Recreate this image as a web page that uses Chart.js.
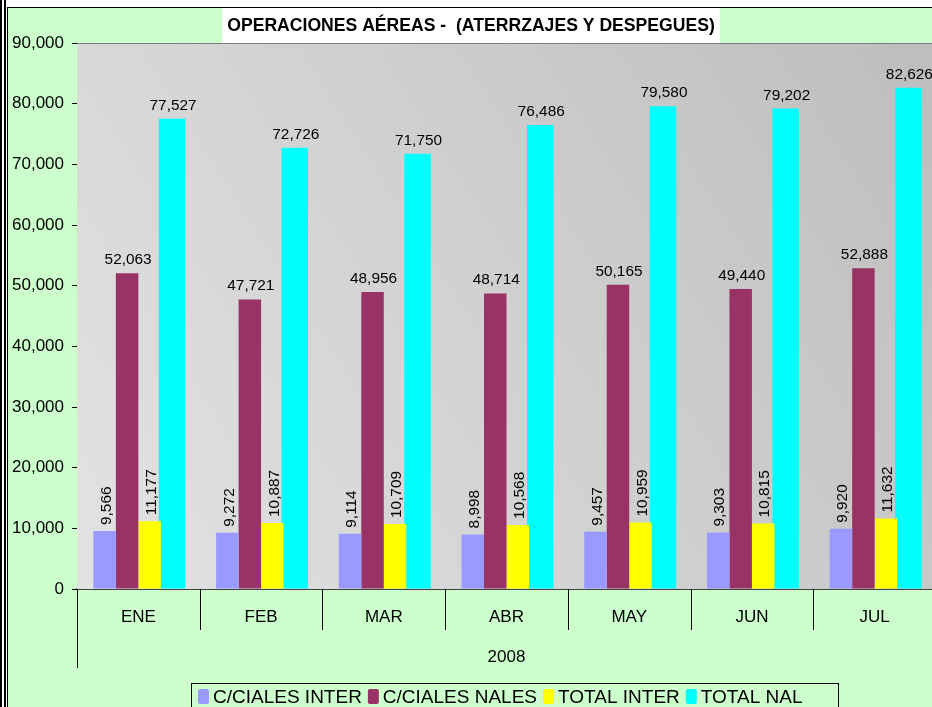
<!DOCTYPE html>
<html>
<head>
<meta charset="utf-8">
<script src="https://cdn.jsdelivr.net/npm/chart.js@4/dist/chart.umd.min.js"></script>
<style>
  html, body { margin: 0; padding: 0; width: 932px; height: 707px; overflow: hidden; background: #ffffff; }
  #strip { position: absolute; left: 0; top: 0; width: 2px; height: 707px; background: #fff; border-left: 2px solid #000; border-right: 2px solid #000; }
  #bg { position: absolute; left: 7px; top: 7px; width: 940px; height: 720px; background: #ccffcc; border-left: 1px solid #000; border-top: 1px solid #000; }
  #topbar { position: absolute; left: 7px; top: 0; width: 940px; height: 7px; background: #fff; }
  canvas { position: absolute; left: 0; top: 0; }
</style>
</head>
<body>
<div id="topbar"></div>
<div id="strip"></div>
<div id="bg"></div>
<canvas id="c" width="940" height="707"></canvas>
<script>
// ---- data ----
const categories = ['ENE', 'FEB', 'MAR', 'ABR', 'MAY', 'JUN', 'JUL'];
const groupLabel = '2008';
const cialesInter = [9566, 9272, 9114, 8998, 9457, 9303, 9920];
const cialesNales = [52063, 47721, 48956, 48714, 50165, 49440, 52888];
const totalInter = [11177, 10887, 10709, 10568, 10959, 10815, 11632];
const totalNal = [77527, 72726, 71750, 76486, 79580, 79202, 82626];
const seriesNames = ['C/CIALES INTER', 'C/CIALES NALES', 'TOTAL INTER', 'TOTAL NAL'];
const titleText = 'OPERACIONES AÉREAS -  (ATERRZAJES Y DESPEGUES)';

const FONT = '"Liberation Sans", Arial, sans-serif';
const fmt = v => String(v).replace(/\B(?=(\d{3})+(?!\d))/g, ',');

const colors = ['#9999ff', '#993366', '#ffff00', '#00ffff'];
const rotatedLabels = [true, false, true, false];

const decorPlugin = {
  id: 'decor',
  beforeDatasetsDraw(chart) {
    const { ctx, chartArea: a } = chart;
    ctx.save();
    const g = ctx.createLinearGradient(a.left, a.bottom, a.right, a.top);
    g.addColorStop(0, '#e3e3e3');
    g.addColorStop(1, '#bdbdbd');
    ctx.fillStyle = g;
    ctx.fillRect(a.left, a.top, a.right - a.left, a.bottom - a.top);
    ctx.strokeStyle = '#7f7f7f';
    ctx.lineWidth = 1;
    ctx.beginPath();
    ctx.moveTo(a.left, a.top + 0.5);
    ctx.lineTo(a.right, a.top + 0.5);
    ctx.stroke();
    ctx.restore();
  },
  afterDatasetsDraw(chart) {
    const { ctx } = chart;
    ctx.save();
    ctx.fillStyle = '#000';
    ctx.font = '15.4px ' + FONT;
    chart.data.datasets.forEach((ds, di) => {
      const meta = chart.getDatasetMeta(di);
      meta.data.forEach((bar, i) => {
        const txt = fmt(ds.data[i]);
        if (rotatedLabels[di]) {
          ctx.save();
          ctx.translate(bar.x + 2, bar.y - 6);
          ctx.rotate(-Math.PI / 2);
          ctx.textAlign = 'left';
          ctx.textBaseline = 'middle';
          ctx.fillText(txt, 0, 0);
          ctx.restore();
        } else {
          ctx.textAlign = 'center';
          ctx.textBaseline = 'alphabetic';
          ctx.fillText(txt, bar.x + 1, bar.y - 9);
        }
      });
    });
    ctx.restore();
  },
  afterDraw(chart) {
    const { ctx, chartArea: a, scales } = chart;
    const x = scales.x;
    ctx.save();
    // category separators
    ctx.strokeStyle = '#000';
    ctx.lineWidth = 1;
    const half = (x.getPixelForValue(1) - x.getPixelForValue(0)) / 2;
    ctx.beginPath();
    for (let i = 1; i < categories.length; i++) {
      const px = Math.round(x.getPixelForValue(i) - half) + 0.5;
      ctx.moveTo(px, a.bottom);
      ctx.lineTo(px, a.bottom + 41);
    }
    ctx.moveTo(a.left + 0.5, a.bottom);
    ctx.lineTo(a.left + 0.5, a.bottom + 79);
    ctx.stroke();
    // group label
    ctx.fillStyle = '#000';
    ctx.font = '17px ' + FONT;
    ctx.textAlign = 'center';
    ctx.textBaseline = 'middle';
    ctx.fillText(groupLabel, (a.left + a.right) / 2, 657);

    // title box
    ctx.font = 'bold 17.6px ' + FONT;
    const tw = ctx.measureText(titleText).width;
    const cx = 471;
    ctx.fillStyle = '#ffffff';
    ctx.fillRect(cx - tw / 2 - 5, 8, tw + 10, a.top - 8);
    ctx.fillStyle = '#000';
    ctx.fillText(titleText, cx, 26);

    // legend
    ctx.font = '19px ' + FONT;
    const lx0 = 191, ly0 = 683;
    ctx.strokeStyle = '#000';
    ctx.lineWidth = 1;
    ctx.fillStyle = '#ccffcc';
    ctx.fillRect(lx0, ly0, 838 - lx0, 40);
    ctx.strokeRect(lx0 + 0.5, ly0 + 0.5, 838 - lx0, 40);
    let px = 198;
    seriesNames.forEach((name, i) => {
      ctx.fillStyle = colors[i];
      ctx.beginPath();
      ctx.roundRect(px, 689, 11, 15, 2);
      ctx.fill();
      px += 15;
      ctx.fillStyle = '#000';
      ctx.textAlign = 'left';
      ctx.textBaseline = 'middle';
      ctx.fillText(name, px, 698);
      px += ctx.measureText(name).width + 6;
    });
    ctx.restore();
  }
};

const datasets = [cialesInter, cialesNales, totalInter, totalNal].map((d, i) => ({
  label: seriesNames[i],
  data: d,
  backgroundColor: colors[i],
  borderWidth: 0,
  barPercentage: i === 3 ? 1.18 : 1.0,
  categoryPercentage: 0.733
}));

new Chart(document.getElementById('c'), {
  type: 'bar',
  data: { labels: categories, datasets },
  options: {
    responsive: false,
    animation: false,
    layout: { padding: { top: 43, right: 4, left: 0, bottom: 0 } },
    plugins: { legend: { display: false }, title: { display: false }, tooltip: { enabled: false } },
    scales: {
      x: {
        grid: { display: false, drawTicks: false },
        border: { display: true, color: '#404040', width: 2 },
        ticks: { color: '#000', font: { family: FONT, size: 17 }, padding: 18 },
        afterFit: s => { s.height = 118; }
      },
      y: {
        min: 0, max: 90000,
        grid: { drawOnChartArea: false, drawTicks: true, tickLength: 5, color: '#000' },
        border: { display: true, color: '#000', width: 1 },
        ticks: { stepSize: 10000, color: '#000', font: { family: FONT, size: 17 }, padding: 8, callback: v => fmt(v) },
        afterFit: s => { s.width = 77; }
      }
    }
  },
  plugins: [decorPlugin]
});
</script>
</body>
</html>
